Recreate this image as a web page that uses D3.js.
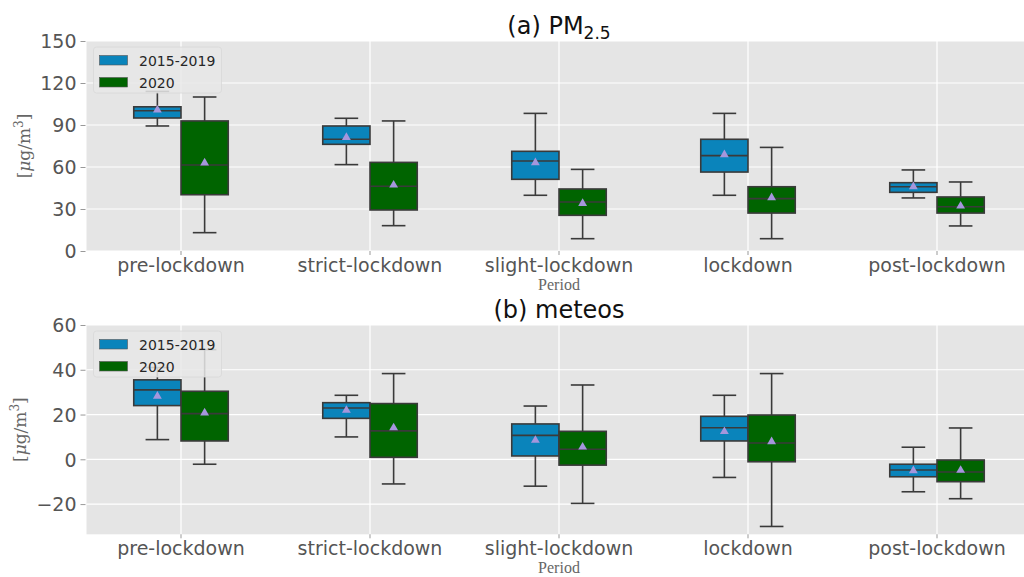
<!DOCTYPE html>
<html>
<head>
<meta charset="utf-8">
<script src="https://cdn.jsdelivr.net/npm/d3@7"></script>
<style>
  html, body { margin: 0; padding: 0; background: #fff; }
  svg { display: block; }
</style>
</head>
<body>
<svg id="chart" width="1024" height="577"></svg>
<script>
// Periods on the x axis
const periods = ["pre-lockdown", "strict-lockdown", "slight-lockdown", "lockdown", "post-lockdown"];
const seriesNames = ["2015-2019", "2020"];

// Box statistics per period: [lower whisker, Q1, median, Q3, upper whisker, mean]
const pmBaseline = [
  [89.3, 95.0, 100.2, 103.0, 114.0, 100.7],
  [61.7, 76.2, 79.8, 89.3, 94.8, 81.2],
  [39.8, 51.2, 64.3, 71.2, 98.3, 63.1],
  [39.8, 56.4, 68.1, 79.8, 98.3, 68.8],
  [37.9, 41.9, 45.9, 48.8, 57.9, 45.9]
];
const pm2020 = [
  [13.1, 40.2, 61.4, 92.9, 110.0, 62.9],
  [18.1, 29.3, 46.2, 63.3, 92.9, 47.1],
  [8.8, 25.5, 35.0, 44.3, 58.3, 34.0],
  [8.8, 27.1, 37.4, 45.9, 74.0, 38.1],
  [17.9, 27.1, 31.6, 38.6, 49.3, 32.1]
];
const metBaseline = [
  [8.8, 24.0, 31.0, 35.5, 41.0, 28.2],
  [10.0, 18.3, 22.9, 25.3, 28.6, 21.9],
  [-12.0, 1.5, 10.7, 15.8, 23.8, 8.5],
  [-8.1, 8.2, 14.1, 19.2, 28.6, 12.4],
  [-14.5, -7.8, -4.8, -2.2, 5.4, -5.1]
];
const met2020 = [
  [-2.2, 8.2, 20.4, 30.4, 49.0, 20.7],
  [-11.0, 0.9, 12.7, 24.9, 38.3, 14.1],
  [-19.7, -2.6, 4.5, 12.5, 33.2, 5.5],
  [-30.0, -1.1, 7.3, 19.8, 38.3, 7.9],
  [-17.6, -10.0, -5.7, -0.3, 14.0, -4.9]
];

// Axis ticks
const pmTicks = [0, 30, 60, 90, 120, 150];
const metTicks = [-20, 0, 20, 40, 60];
const pmDomain = [0, 150];
const metDomain = [-33.5, 60];

const colors = ["#0a84bb", "#006400"];
const edge = "#3a3a3a";
const meanColor = "#a596dc";

const svg = d3.select("#chart");
const plotLeft = 86.5, plotRight = 1031.5;

const x = d3.scaleBand().domain(periods).range([plotLeft, plotRight]).paddingInner(0).paddingOuter(0);

function drawPanel(opt) {
  const g = svg.append("g");
  const y = d3.scaleLinear().domain(opt.domain).range([opt.bottom, opt.top]);

  // background
  g.append("rect")
    .attr("x", plotLeft).attr("y", opt.top)
    .attr("width", plotRight - plotLeft).attr("height", opt.bottom - opt.top)
    .attr("fill", "#e5e5e5");

  // grid
  g.selectAll(".hgrid").data(opt.ticks).join("line")
    .attr("x1", plotLeft).attr("x2", plotRight)
    .attr("y1", d => y(d)).attr("y2", d => y(d))
    .attr("stroke", "#fff").attr("stroke-width", 1.2);
  g.selectAll(".vgrid").data(periods).join("line")
    .attr("x1", d => x(d) + x.bandwidth() / 2).attr("x2", d => x(d) + x.bandwidth() / 2)
    .attr("y1", opt.top).attr("y2", opt.bottom)
    .attr("stroke", "#fff").attr("stroke-width", 1.2);

  // y axis
  const yAxis = d3.axisLeft(y).tickValues(opt.ticks).tickSize(5).tickPadding(4)
    .tickFormat(d => d < 0 ? "\u2212" + Math.abs(d) : d);
  const ya = g.append("g").attr("transform", `translate(${plotLeft - 1},0)`).call(yAxis);
  ya.select(".domain").remove();
  ya.selectAll(".tick line").attr("stroke", "#999");
  ya.selectAll(".tick text").attr("fill", "#555").attr("font-size", 19)
    .attr("font-family", "DejaVu Sans, sans-serif").attr("dy", "0.36em");

  // x axis
  const xAxis = d3.axisBottom(x).tickSize(4).tickPadding(6);
  const xa = g.append("g").attr("transform", `translate(0,${opt.bottom})`).call(xAxis);
  xa.select(".domain").remove();
  xa.selectAll(".tick line").attr("stroke", "#999");
  xa.selectAll(".tick text").attr("fill", "#555").attr("font-size", 19)
    .attr("font-family", "DejaVu Sans, sans-serif").attr("dy", "0.58em");

  // boxes
  const bw = x.bandwidth() * 0.25;
  opt.series.forEach((data, si) => {
    const off = (si === 0 ? -0.125 : 0.125) * x.bandwidth();
    const grp = g.append("g");
    const items = periods.map((p, i) => ({ p, s: data[i], cx: x(p) + x.bandwidth() / 2 + off }));
    // whiskers
    grp.selectAll(".wlo").data(items).join("line")
      .attr("x1", d => d.cx).attr("x2", d => d.cx)
      .attr("y1", d => y(d.s[1])).attr("y2", d => y(d.s[0]))
      .attr("stroke", edge).attr("stroke-width", 1.6);
    grp.selectAll(".whi").data(items).join("line")
      .attr("x1", d => d.cx).attr("x2", d => d.cx)
      .attr("y1", d => y(d.s[3])).attr("y2", d => y(d.s[4]))
      .attr("stroke", edge).attr("stroke-width", 1.6);
    grp.selectAll(".clo").data(items).join("line")
      .attr("x1", d => d.cx - bw / 4).attr("x2", d => d.cx + bw / 4)
      .attr("y1", d => y(d.s[0])).attr("y2", d => y(d.s[0]))
      .attr("stroke", edge).attr("stroke-width", 1.6);
    grp.selectAll(".chi").data(items).join("line")
      .attr("x1", d => d.cx - bw / 4).attr("x2", d => d.cx + bw / 4)
      .attr("y1", d => y(d.s[4])).attr("y2", d => y(d.s[4]))
      .attr("stroke", edge).attr("stroke-width", 1.6);
    // box body
    grp.selectAll(".box").data(items).join("rect")
      .attr("x", d => d.cx - bw / 2).attr("width", bw)
      .attr("y", d => y(d.s[3])).attr("height", d => y(d.s[1]) - y(d.s[3]))
      .attr("fill", colors[si]).attr("stroke", edge).attr("stroke-width", 1.6);
    // median
    grp.selectAll(".med").data(items).join("line")
      .attr("x1", d => d.cx - bw / 2).attr("x2", d => d.cx + bw / 2)
      .attr("y1", d => y(d.s[2])).attr("y2", d => y(d.s[2]))
      .attr("stroke", edge).attr("stroke-width", 1.6);
    // mean marker
    grp.selectAll(".mean").data(items).join("path")
      .attr("d", d3.symbol(d3.symbolTriangle, 34))
      .attr("transform", d => `translate(${d.cx},${y(d.s[5])})`)
      .attr("fill", meanColor);
  });

  // y label
  const yl = g.append("text")
    .attr("transform", `translate(${opt.ylabelX},${(opt.top + opt.bottom) / 2}) rotate(-90)`)
    .attr("text-anchor", "middle").attr("fill", "#666")
    .attr("font-family", "DejaVu Serif, serif").attr("font-size", 17);
  yl.append("tspan").text("[");
  yl.append("tspan").attr("font-style", "italic").text("\u03bc");
  yl.append("tspan").text("g/m");
  yl.append("tspan").attr("font-size", 12).attr("dy", -7).text("3");
  yl.append("tspan").attr("dy", 7).text("]");

  // x label
  g.append("text").attr("x", (plotLeft + plotRight) / 2).attr("y", opt.bottom + 39)
    .attr("text-anchor", "middle").attr("fill", "#666")
    .attr("font-family", "Liberation Serif, serif").attr("font-size", 16)
    .text("Period");

  // title
  const t = g.append("text").attr("x", (plotLeft + plotRight) / 2).attr("y", opt.top - 7)
    .attr("text-anchor", "middle").attr("fill", "#111")
    .attr("font-family", "DejaVu Sans, sans-serif").attr("font-size", 24);
  opt.title(t);

  // legend
  const lg = g.append("g").attr("transform", `translate(93.5,${opt.top + 6})`);
  lg.append("rect").attr("width", 128).attr("height", 46).attr("rx", 3)
    .attr("fill", "#e8e8e8").attr("fill-opacity", 0.85)
    .attr("stroke", "#d8d8d8").attr("stroke-width", 0.8);
  seriesNames.forEach((name, i) => {
    lg.append("rect").attr("x", 6).attr("y", 8.5 + i * 22).attr("width", 28).attr("height", 9.5)
      .attr("fill", colors[i]).attr("stroke", "#555").attr("stroke-width", 0.6);
    lg.append("text").attr("x", 45.5).attr("y", 18.5 + i * 22)
      .attr("fill", "#262626").attr("font-family", "DejaVu Sans, sans-serif").attr("font-size", 14)
      .text(name);
  });
}

drawPanel({
  top: 41, bottom: 251, domain: pmDomain, ticks: pmTicks,
  series: [pmBaseline, pm2020], ylabelX: 30,
  title: t => {
    t.append("tspan").text("(a) PM");
    t.append("tspan").attr("font-size", 17).attr("dy", 5).text("2.5");
  }
});

drawPanel({
  top: 325, bottom: 534.3, domain: metDomain, ticks: metTicks,
  series: [metBaseline, met2020], ylabelX: 26,
  title: t => { t.append("tspan").text("(b) meteos"); }
});
</script>
</body>
</html>
